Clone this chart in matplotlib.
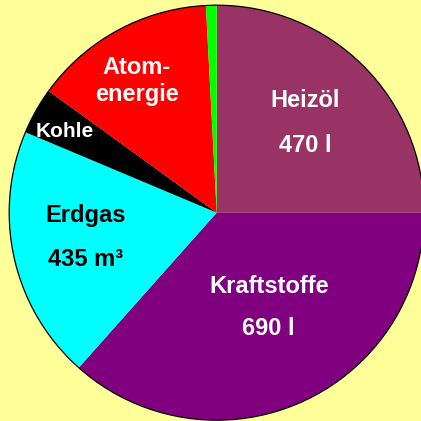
import matplotlib.pyplot as plt

plt.rcParams['font.family'] = ['Liberation Sans', 'DejaVu Sans']

sizes=[25.0,36.57,19.76,3.64,14.19,0.83]
colors=['#993366','#800080','#00FFFF','#000000','#FF0000','#00FF00']

plt.figure(figsize=(4.21,4.21),dpi=100,facecolor='#FFFF99')
plt.axes([0,0,1,1],facecolor='#FFFF99')
plt.pie(sizes,colors=colors,startangle=90,counterclock=False,radius=1.0,
        wedgeprops={'linewidth':0})
plt.gca().add_patch(plt.Circle((0,0),1.0,fill=False,edgecolor='black',linewidth=0.9))
plt.axis([-1.0443,0.9846,-1.0039,1.0250])
plt.axis('off')

# labels in the slices
plt.text(0.424,0.508,"Heizöl",color='white',fontsize=17,fontweight='bold',ha='center',va='baseline')
plt.text(0.4255,0.294,"470 l",color='white',fontsize=17,fontweight='bold',ha='center',va='baseline')
plt.text(0.2535,-0.3855,"Kraftstoffe",color='white',fontsize=17,fontweight='bold',ha='center',va='baseline')
plt.text(0.2506,-0.589,"690 l",color='white',fontsize=17,fontweight='bold',ha='center',va='baseline')
plt.text(-0.633,-0.0434,"Erdgas",color='black',fontsize=17,fontweight='bold',ha='center',va='baseline')
plt.text(-0.633,-0.2554,"435 m³",color='black',fontsize=17,fontweight='bold',ha='center',va='baseline')
plt.text(-0.730,0.366,"Kohle",color='white',fontsize=15,fontweight='bold',ha='center',va='baseline')
plt.text(-0.384,0.668,"Atom-",color='white',fontsize=17,fontweight='bold',ha='center',va='baseline')
plt.text(-0.384,0.536,"energie",color='white',fontsize=17,fontweight='bold',ha='center',va='baseline')

plt.savefig("out.png",dpi=100,facecolor='#FFFF99')
